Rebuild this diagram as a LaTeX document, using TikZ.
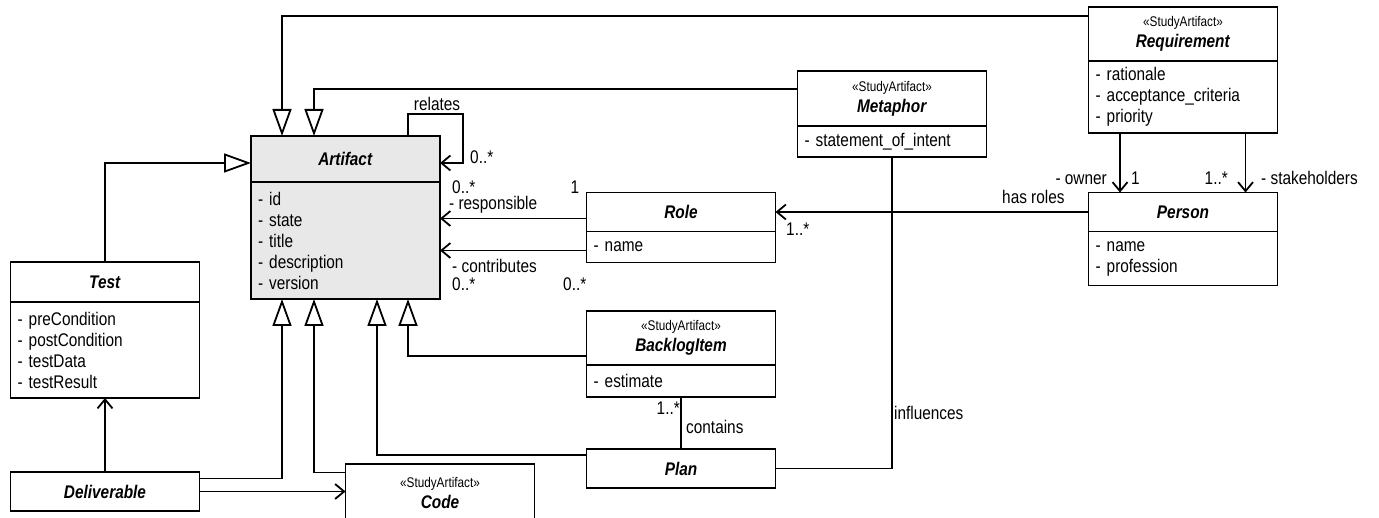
\documentclass[tikz,border=0pt]{standalone}
\usepackage{fontspec}
\setmainfont[FakeStretch=0.84]{Liberation Sans}
\usepackage{xcolor}
\usepackage{tikz}
\usetikzlibrary{arrows.meta, positioning, calc}

\definecolor{artgray}{HTML}{E8E8E8}
\newcommand\umlfont{\fontsize{18.3}{21}\selectfont}
\newcommand\stereofont{\fontsize{14}{16}\selectfont}

\begin{document}
\begin{tikzpicture}[x=1pt, y=-1pt]
\tikzstyle{classhead} = [draw, line width=1.8pt, outer sep=0pt, inner sep=2pt, minimum width=189pt, align=center, font=\umlfont]
\tikzstyle{classbody} = [draw, line width=1.8pt, outer sep=0pt, inner xsep=7pt, inner ysep=2pt, text width=175pt, align=left, font=\umlfont, anchor=north]
\tikzstyle{gen} = [line width=1.8pt, -{Triangle[length=27pt, width=19pt, fill=white]}]
\tikzstyle{assoc} = [line width=1.8pt, -{Straight Barb[length=9pt, width=15pt]}]
\tikzstyle{link} = [line width=1.8pt]
\tikzstyle{lbl} = [font=\umlfont, inner sep=0pt, text height=13pt, text depth=0pt]

\useasboundingbox (0,0) rectangle (1379,518);

% Artifact
\node[classhead, fill=artgray, minimum height=46pt] (arthead) at (345.5,159) {\textbf{\textit{Artifact}}};
\node[classbody, fill=artgray, minimum height=117pt] (artbody) at (arthead.south) {- id\\- state\\- title\\- description\\- version};

% Test and Deliverable
\node[classhead, minimum height=40pt] (testhead) at (105,282) {\textbf{\textit{Test}}};
\node[classbody, minimum height=96pt] (testbody) at (testhead.south) {- preCondition\\- postCondition\\- testData\\- testResult};
\node[classhead, minimum height=39pt] (deliv) at (105,491.5) {\textbf{\textit{Deliverable}}};

% Code
\node[classhead, minimum height=58pt, anchor=north] (codehead) at (440,464) {{\stereofont «StudyArtifact»}\\\textbf{\textit{Code}}};

% Role
\node[classhead, minimum height=39pt] (rolehead) at (681,212) {\textbf{\textit{Role}}};
\node[classbody, minimum height=31pt] (rolebody) at (rolehead.south) {- name};

% BacklogItem and Plan
\node[classhead, minimum height=54pt] (blhead) at (681,338) {{\stereofont «StudyArtifact»}\\\textbf{\textit{BacklogItem}}};
\node[classbody, minimum height=32pt] (blbody) at (blhead.south) {- estimate};
\node[classhead, minimum height=39pt] (plan) at (681,468.5) {\textbf{\textit{Plan}}};

% Metaphor
\node[classhead, minimum height=55pt] (metahead) at (892,98.5) {{\stereofont «StudyArtifact»}\\\textbf{\textit{Metaphor}}};
\node[classbody, minimum height=31pt] (metabody) at (metahead.south) {- statement\_of\_intent};

% Requirement and Person
\node[classhead, minimum height=54pt] (reqhead) at (1183,34) {{\stereofont «StudyArtifact»}\\\textbf{\textit{Requirement}}};
\node[classbody, minimum height=72pt] (reqbody) at (reqhead.south) {- rationale\\- acceptance\_criteria\\- priority};
\node[classhead, minimum height=39pt] (personhead) at (1183,212) {\textbf{\textit{Person}}};
\node[classbody, minimum height=54pt] (personbody) at (personhead.south) {- name\\- profession};

% Generalizations
\draw[gen] ([yshift=-9pt]reqhead.north west) -| ([xshift=-63.5pt]arthead.north);
\draw[gen] ([yshift=-18pt]metahead.north west) -| ([xshift=-31.5pt]arthead.north);
\draw[gen] (testhead.north) |- ([yshift=-4pt]arthead.west);
\draw[gen] ([yshift=-6.5pt]deliv.north east) -| ([xshift=-63.5pt]artbody.south);
\draw[gen] ([yshift=-8.5pt]codehead.north west) -| ([xshift=-31.5pt]artbody.south);
\draw[gen] ([yshift=-6pt]plan.north west) -| ([xshift=31.5pt]artbody.south);
\draw[gen] ([yshift=-45pt]blhead.north west) -| ([xshift=62.5pt]artbody.south);

% Associations
\draw[assoc] ([xshift=62.5pt]arthead.north) -- ++(0,-22) -- ++(55,0) |- ([yshift=-4pt]arthead.east);
\draw[assoc] (deliv.north) -- (testbody.south);
\draw[assoc] ([yshift=-19.5pt]deliv.north east) -- ([yshift=-19.5pt]deliv.north east -| codehead.west);
\draw[assoc] ([yshift=-6.5pt]rolehead.west) -- ([yshift=-6.5pt]rolehead.west -| artbody.east);
\draw[assoc] ([yshift=-3.5pt]rolebody.west) -- ([yshift=-3.5pt]rolebody.west -| artbody.east);
\draw[assoc] (personhead.west) -- (rolehead.east);
\draw[assoc] ([xshift=-63pt]reqbody.south) -- ([xshift=-63pt]personhead.north);
\draw[assoc] ([xshift=62.5pt]reqbody.south) -- ([xshift=62.5pt]personhead.north);
\draw[link] (blbody.south) -- (plan.north);
\draw[link] (metabody.south) |- (plan.east);

% Labels
\node[lbl] (relLbl) at (437,104) {relates};
\node[lbl, anchor=west] (relMult) at (470,157) {0..*};
\node[lbl, anchor=west] (respMultA) at (452,187) {0..*};
\node[lbl, anchor=west] (respName) at (449,203) {- responsible};
\node[lbl] (respMultB) at (575,187) {1};
\node[lbl, anchor=west] (contName) at (452,266) {- contributes};
\node[lbl, anchor=west] (contMultA) at (452,284) {0..*};
\node[lbl, anchor=west] (contMultB) at (563,284) {0..*};
\node[lbl, anchor=west] (roleMult) at (786,229) {1..*};
\node[lbl, anchor=west] (hasRoles) at (1002,197) {has roles};
\node[lbl, anchor=east] (ownerName) at (1107,178) {- owner};
\node[lbl, anchor=west] (ownerMult) at (1131,178) {1};
\node[lbl, anchor=east] (stakeMult) at (1228,178) {1..*};
\node[lbl, anchor=west] (stakeName) at (1261,178) {- stakeholders};
\node[lbl, anchor=east] (blMult) at (680,408) {1..*};
\node[lbl, anchor=west] (containsLbl) at (686,427) {contains};
\node[lbl, anchor=west] (inflLbl) at (894,413) {influences};
\end{tikzpicture}
\end{document}
